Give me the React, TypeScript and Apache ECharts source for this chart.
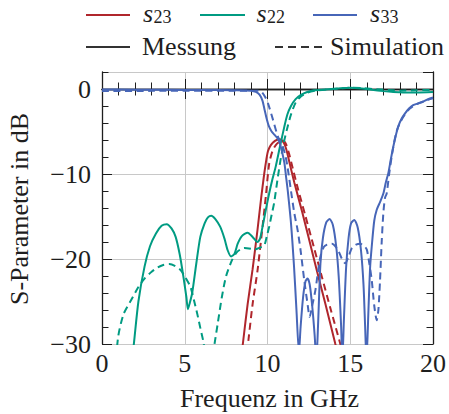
import React, { useEffect, useRef } from "react";
import * as echarts from "echarts";

// ---- data (frequency in GHz, S-parameter in dB) ----
const s23Messung: [number, number][] = [
  [8.45, -31], [8.54, -29.5], [8.8, -25.3], [9.1, -21.2], [9.4, -16.5], [9.63, -12.6], [9.8, -10.0],
  [9.93, -8.3], [10.03, -7.3], [10.2, -6.6], [10.45, -6.1], [10.7, -5.9], [10.85, -6.0], [11.0, -6.4],
  [11.12, -7.0], [11.25, -8.0], [11.42, -9.4], [11.62, -11.0], [12.1, -14.5], [12.5, -17.6],
  [13.0, -21.5], [13.5, -25.3], [14.1, -30], [14.3, -31.5],
];
const s23Simulation: [number, number][] = [
  [8.75, -31], [8.85, -29.5], [9.1, -25.3], [9.4, -21.3], [9.7, -16.2], [9.9, -12.6], [10.1, -8.8],
  [10.3, -7.3], [10.5, -6.6], [10.73, -6.2], [10.95, -6.1], [11.12, -6.5], [11.3, -7.6], [11.52, -9.3],
  [11.82, -11.6], [12.3, -15.0], [12.8, -18.6], [13.3, -22.2], [13.8, -25.8], [14.4, -30], [14.6, -31.5],
];
const s22Messung: [number, number][] = [
  [1.75, -33], [1.93, -29.9], [2.2, -25], [2.57, -20.9], [2.9, -18.5], [3.26, -17.0], [3.6, -16.1],
  [3.91, -15.9], [4.2, -16.4], [4.45, -17.4], [4.7, -19.5], [4.92, -22.1], [5.1, -24.5], [5.19, -25.9],
  [5.3, -25.2], [5.45, -24], [5.7, -20.5], [5.94, -17.4], [6.2, -15.8], [6.4, -15.1], [6.6, -14.9],
  [6.85, -15.3], [7.14, -16.2], [7.4, -17.6], [7.6, -19], [7.8, -19.7], [8.0, -19.4], [8.2, -18.2],
  [8.45, -17.3], [8.8, -16.9], [9.1, -17.4], [9.4, -18.0], [9.55, -17.6], [9.7, -16.2], [9.9, -14.2],
  [10.1, -12.3], [10.3, -10.6], [10.5, -9.1], [10.75, -6.8], [11.02, -4.4], [11.2, -3.0], [11.42, -2.0],
  [11.7, -1.2], [12.02, -0.7], [12.4, -0.35], [12.8, -0.15], [13.5, -0.05], [14.2, 0.05], [15.0, 0.15],
  [15.7, 0.05], [16.3, -0.1], [17.0, -0.25], [17.6, -0.35], [18.2, -0.4], [19.0, -0.4], [20.0, -0.35],
];
const s22Simulation: [number, number][] = [
  [0.8, -33], [0.98, -29.1], [1.3, -26.5], [1.77, -24.8], [2.2, -23.3], [2.57, -22.3], [3.0, -21.5],
  [3.36, -21.0], [3.7, -20.7], [4.06, -20.6], [4.4, -20.8], [4.75, -21.3], [5.05, -22.2], [5.35, -23.3],
  [5.55, -24.8], [5.75, -26.4], [5.95, -28.2], [6.15, -30], [6.4, -34], [6.6, -33], [6.8, -30],
  [7.0, -27.5], [7.24, -24.5], [7.5, -22], [7.84, -20.2], [8.1, -19.3], [8.34, -18.9], [8.6, -18.7],
  [9.0, -18.8], [9.2, -18.9], [9.5, -18.7], [9.8, -18.4], [9.95, -17.4], [10.1, -16.2], [10.25, -14.8],
  [10.4, -13.4], [10.6, -10.7], [10.8, -8.2], [11.02, -6.0], [11.22, -4.4], [11.42, -3.0], [11.7, -1.6],
  [12.0, -0.9], [12.4, -0.45], [12.9, -0.2], [13.6, -0.05], [14.3, 0.05], [15.0, 0.15], [15.7, 0.1],
  [16.4, 0.0], [17.2, -0.1], [18.0, -0.2], [19.0, -0.15], [20.0, -0.1],
];
const s33Messung: [number, number][] = [
  [0, -0.05], [2, -0.08], [4, -0.1], [6, -0.12], [8, -0.15], [9.0, -0.2], [9.3, -0.35], [9.53, -0.7],
  [9.7, -1.4], [9.83, -2.5], [9.95, -3.5], [10.07, -4.3], [10.25, -5.0], [10.43, -5.4], [10.6, -5.8],
  [10.73, -6.3], [10.88, -7.4], [11.02, -8.7], [11.12, -10.3], [11.22, -11.9], [11.42, -15.8],
  [11.6, -20.8], [11.75, -26.0], [11.9, -31], [12.0, -28], [12.15, -24.5], [12.3, -22.6], [12.42, -22.3],
  [12.55, -23], [12.7, -25.5], [12.85, -29], [12.95, -32], [13.05, -28], [13.2, -20.5], [13.35, -17.5],
  [13.55, -15.7], [13.75, -15.3], [13.95, -16], [14.15, -18.5], [14.3, -22], [14.45, -28], [14.52, -32],
  [14.62, -27], [14.75, -21], [14.9, -17.5], [15.05, -15.8], [15.24, -15.4], [15.45, -16.3], [15.65, -19],
  [15.8, -23], [15.9, -28], [15.98, -32], [16.1, -26], [16.2, -21], [16.3, -18.5], [16.45, -15.5],
  [16.6, -14.2], [16.8, -13.3], [17.0, -12.3], [17.15, -11], [17.3, -9.9], [17.45, -8.3], [17.6, -6.8],
  [17.75, -5.5], [17.9, -4.4], [18.1, -3.5], [18.3, -2.9], [18.55, -2.3], [18.8, -1.9], [19.1, -1.7],
  [19.4, -1.5], [19.7, -1.2], [20.0, -1.0],
];
const s33Simulation: [number, number][] = [
  [0, -0.25], [3, -0.22], [6, -0.2], [8, -0.2], [9.0, -0.2], [9.4, -0.2], [9.63, -0.3], [9.85, -0.9],
  [10.03, -1.7], [10.33, -3.6], [10.63, -5.6], [10.93, -6.8], [11.1, -8], [11.22, -9.3], [11.42, -12],
  [11.62, -14.6], [11.82, -16.6], [12.0, -19], [12.22, -22.5], [12.4, -25], [12.55, -26.8], [12.7, -25.5],
  [12.9, -23.6], [13.05, -21.5], [13.2, -19.7], [13.4, -18.6], [13.6, -18.3], [13.9, -18.2], [14.1, -18.5],
  [14.3, -19.1], [14.5, -20], [14.7, -20.5], [14.9, -19.7], [15.1, -18.7], [15.35, -18.3], [15.6, -18.2],
  [15.85, -18.5], [16.0, -18.9], [16.15, -20.5], [16.3, -22.5], [16.45, -25.5], [16.6, -27.2], [16.7, -26],
  [16.8, -22.5], [16.9, -18], [17.0, -14.6], [17.1, -12.8], [17.2, -12.3], [17.35, -10], [17.5, -8],
  [17.65, -6.3], [17.8, -5], [18.0, -4], [18.3, -3], [18.6, -2.3], [19.0, -1.8], [19.5, -1.4], [20.0, -1.1],
];

const xTicks = [0, 5, 10, 15, 20];
const yTicks = [-30, -20, -10, 0];

const RED = "#b0262c";
const GREEN = "#009b82";
const BLUE = "#4766b8";
const INK = "#1e1e1e";
const FONT = "'Liberation Serif', 'Times New Roman', serif";
const DASH = [7, 4.5];

const GRID = { left: 102, top: 72, width: 335, height: 272 };

const fmtNum = (v: number) => (v < 0 ? "\u2212" + Math.abs(v) : String(v));

export default function App() {
  const ref = useRef<HTMLDivElement>(null);
  useEffect(() => {
    if (!ref.current) return;
    const chart = echarts.init(ref.current, undefined, { renderer: "svg" });
    const frameLine = { show: true, lineStyle: { color: INK, width: 1.3 } };
    const majorTick = { show: true, inside: true, length: 10, lineStyle: { color: INK, width: 1 } };
    const minorTickAxis = { show: true, inside: true, length: 6.5, lineStyle: { color: INK, width: 1 } };
    const xBase = { type: "value" as const, min: xTicks[0], max: xTicks[xTicks.length - 1], interval: 5, gridIndex: 0 };
    const yBase = { type: "value" as const, min: yTicks[0], max: 2, gridIndex: 0 };
    const series = [
      { name: "s23 Messung", data: s23Messung, color: RED, dashed: false },
      { name: "s23 Simulation", data: s23Simulation, color: RED, dashed: true },
      { name: "s22 Messung", data: s22Messung, color: GREEN, dashed: false },
      { name: "s22 Simulation", data: s22Simulation, color: GREEN, dashed: true },
      { name: "s33 Messung", data: s33Messung, color: BLUE, dashed: false },
      { name: "s33 Simulation", data: s33Simulation, color: BLUE, dashed: true },
    ].map((s) => ({
      type: "line",
      name: s.name,
      data: s.data,
      xAxisIndex: 0,
      yAxisIndex: 0,
      showSymbol: false,
      smooth: 0.25,
      clip: true,
      lineStyle: { color: s.color, width: 2, type: s.dashed ? DASH : "solid" },
      itemStyle: { color: s.color },
    }));

    const legendText = (text: string, x: number, y: number, size: number, italic = false) => ({
      type: "text",
      x,
      y,
      style: {
        text,
        font: `${italic ? "italic " : ""}${size}px ${FONT}`,
        fontSize: size,
        fontFamily: FONT,
        fontStyle: italic ? "italic" : "normal",
        lineHeight: Math.round(size * 0.8),
        fill: INK,
        align: "left",
        verticalAlign: "middle",
      },
    });
    const legendLine = (x1: number, x2: number, y: number, color: string, dashed = false) => ({
      type: "line",
      shape: { x1, y1: y, x2, y2: y },
      style: { stroke: color, lineWidth: 2, lineDash: dashed ? [8, 5] : null },
    });

    chart.setOption({
      animation: false,
      backgroundColor: "#ffffff",
      grid: { ...GRID, containLabel: false },
      xAxis: [
        {
          ...xBase,
          position: "bottom",
          axisLine: frameLine,
          axisTick: majorTick,
          minorTick: { show: true, splitNumber: 5, length: 6.5, lineStyle: { color: INK, width: 1 } },
          splitLine: { show: true, lineStyle: { color: "#c8c8c8", width: 1 } },
          axisLabel: { show: true, fontFamily: FONT, fontSize: 26, color: INK, margin: 6, formatter: fmtNum },
        },
        {
          ...xBase,
          position: "top",
          axisLine: frameLine,
          axisTick: majorTick,
          minorTick: { show: true, splitNumber: 5, length: 6.5, lineStyle: { color: INK, width: 1 } },
          splitLine: { show: false },
          axisLabel: { show: false },
        },
      ],
      yAxis: [
        {
          ...yBase,
          interval: 10,
          position: "left",
          axisLine: frameLine,
          axisTick: majorTick,
          splitLine: { show: true, lineStyle: { color: "#c8c8c8", width: 1 } },
          axisLabel: {
            show: true,
            fontFamily: FONT,
            fontSize: 26,
            color: INK,
            margin: 11,
            showMaxLabel: false,
            formatter: (v: number) => (yTicks.includes(v) ? fmtNum(v) : ""),
          },
        },
        {
          ...yBase,
          interval: 2,
          position: "left",
          axisLine: { show: false },
          axisTick: minorTickAxis,
          splitLine: { show: false },
          axisLabel: { show: false },
        },
        {
          ...yBase,
          interval: 10,
          position: "right",
          axisLine: frameLine,
          axisTick: majorTick,
          splitLine: { show: false },
          axisLabel: { show: false },
        },
        {
          ...yBase,
          interval: 2,
          position: "right",
          axisLine: { show: false },
          axisTick: minorTickAxis,
          splitLine: { show: false },
          axisLabel: { show: false },
        },
      ],
      series,
      graphic: [
        legendLine(86, 130, 15, RED),
        legendText("s", 143, 13, 26, true),
        legendText("23", 153.5, 16.6, 18),
        legendLine(200, 245, 15, GREEN),
        legendText("s", 256.5, 13, 26, true),
        legendText("22", 267, 16.6, 18),
        legendLine(313, 357, 15, BLUE),
        legendText("s", 370, 13, 26, true),
        legendText("33", 380.5, 16.6, 18),
        legendLine(86, 130, 47, "#333333"),
        legendText("Messung", 142, 46, 26),
        legendLine(275, 322, 47, "#333333", true),
        legendText("Simulation", 330, 46, 26),
        {
          type: "text",
          x: 269.5,
          y: 398.5,
          style: { text: "Frequenz in GHz", fontSize: 26, fontFamily: FONT, fill: INK, align: "center", verticalAlign: "middle" },
        },
        {
          type: "text",
          x: 19.5,
          y: 209,
          rotation: Math.PI / 2,
          style: { text: "S-Parameter in dB", fontSize: 26, fontFamily: FONT, fill: INK, align: "center", verticalAlign: "middle" },
        },
      ],
    });
    return () => chart.dispose();
  }, []);
  return (
    <div
      ref={ref}
      style={{ position: "fixed", left: 0, top: 0, width: 449, height: 414, background: "#fff" }}
    />
  );
}
